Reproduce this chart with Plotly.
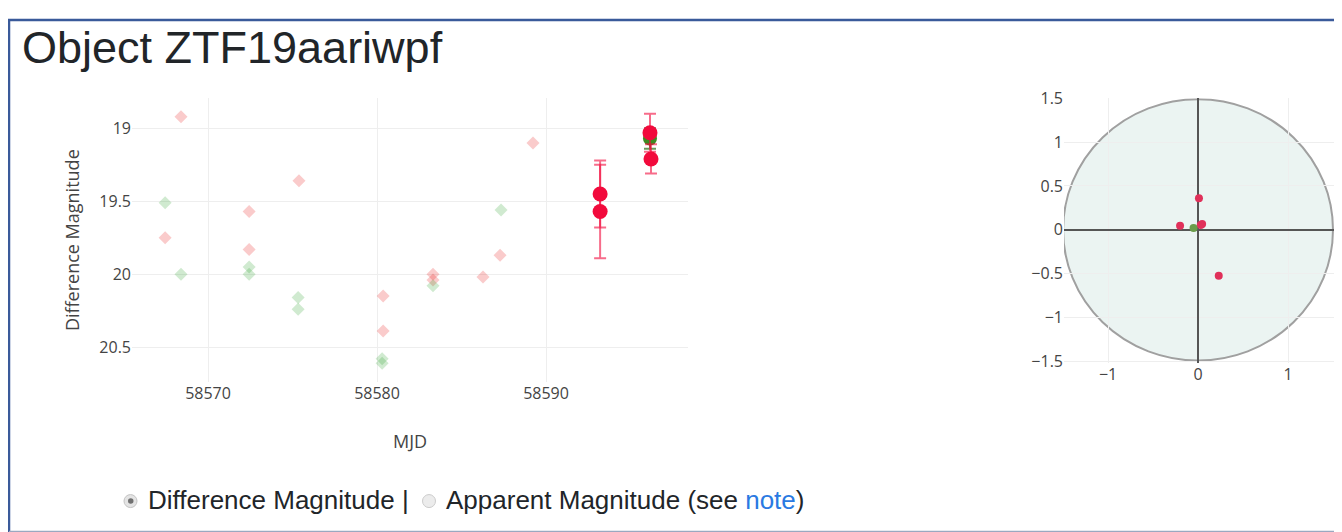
import plotly.graph_objects as go

# figure sits inside the page's 8px body margin; vertical positions below are
# given in target pixels and converted with a small calibration (shift/scale)
OX, OY = 8, 8
W, H = 1334, 534
Y_SHIFT, Y_SCALE = 10.0, 0.963

# ZTF light curve, upper limits (pale diamonds)
r_lim_mjd = [58568.40, 58567.46, 58572.43, 58572.43, 58575.38, 58580.36,
             58580.36, 58583.31, 58583.31, 58586.27, 58587.28, 58589.23]
r_lim_mag = [18.92, 19.75, 19.57, 19.83, 19.36, 20.15,
             20.39, 20.00, 20.04, 20.02, 19.87, 19.10]

g_lim_mjd = [58567.46, 58568.40, 58572.43, 58572.43, 58575.33, 58575.33,
             58580.30, 58580.30, 58583.31, 58587.34]
g_lim_mag = [19.51, 20.00, 19.95, 20.00, 20.16, 20.24,
             20.58, 20.61, 20.08, 19.56]

# detections with errors
g_det_mjd = [58596.15]
g_det_mag = [19.07]
g_det_err = [0.07]

r_det_mjd = [58593.20, 58593.20, 58596.15, 58596.21]
r_det_mag = [19.45, 19.57, 19.03, 19.21]
r_det_err = [0.23, 0.32, 0.13, 0.10]

# cutout offsets (right panel)
r_off_x = [0.01, -0.20, 0.045, 0.03, 0.23]
r_off_y = [0.36, 0.046, 0.065, 0.055, -0.525]
g_off_x = [-0.05]
g_off_y = [0.02]

x_ticks_lc = [58570, 58580, 58590]
y_ticks_lc = [19, 19.5, 20, 20.5]
off_ticks = [-1.5, -1, -0.5, 0, 0.5, 1, 1.5]


def px(x):
    return min(max((x - OX) / W, 0), 1)


def py(y):
    y_page = (y - Y_SHIFT) / Y_SCALE
    return min(max(1 - (y_page - OY) / H, 0), 1)


TICK_FONT = dict(family="Open Sans", size=16, color="#444")
TITLE_FONT = dict(family="Open Sans", size=18, color="#444")

fig = go.Figure()

fig.add_trace(go.Scatter(
    x=r_lim_mjd, y=r_lim_mag, mode="markers", name="r limit",
    marker=dict(symbol="diamond", size=10, color="rgba(230,20,20,0.22)"),
    xaxis="x", yaxis="y"))
fig.add_trace(go.Scatter(
    x=g_lim_mjd, y=g_lim_mag, mode="markers", name="g limit",
    marker=dict(symbol="diamond", size=10, color="rgba(40,160,40,0.22)"),
    xaxis="x", yaxis="y"))
fig.add_trace(go.Scatter(
    x=g_det_mjd, y=g_det_mag, mode="markers", name="g",
    marker=dict(size=14, color="#3d8a22"),
    error_y=dict(type="data", array=g_det_err, color="rgba(40,110,20,0.7)",
                 thickness=2, width=6),
    xaxis="x", yaxis="y"))
fig.add_trace(go.Scatter(
    x=r_det_mjd, y=r_det_mag, mode="markers", name="r",
    marker=dict(size=15, color="#f20a3c"),
    error_y=dict(type="data", array=r_det_err, color="rgba(242,10,60,0.6)",
                 thickness=2, width=6),
    xaxis="x", yaxis="y"))

fig.add_trace(go.Scatter(
    x=r_off_x, y=r_off_y, mode="markers", name="r offset",
    marker=dict(size=8, color="#e0305a"), xaxis="x2", yaxis="y2"))
fig.add_trace(go.Scatter(
    x=g_off_x, y=g_off_y, mode="markers", name="g offset",
    marker=dict(size=8, color="#6a9c4a"), xaxis="x2", yaxis="y2"))

shapes = [
    # circle behind the offset scatter
    dict(type="circle", xref="x2", yref="y2", x0=-1.5, x1=1.5, y0=-1.49, y1=1.49,
         fillcolor="rgba(0,110,90,0.08)", line=dict(color="#a0a0a0", width=2),
         layer="below"),
    # page frame
    dict(type="line", xref="paper", yref="paper", x0=px(9), x1=px(9), y0=1, y1=py(531),
         line=dict(color="#3a5a9a", width=2.5)),
    dict(type="line", xref="paper", yref="paper", x0=px(8), x1=1, y0=0.998, y1=0.998,
         line=dict(color="#3a5a9a", width=2.5)),
    dict(type="line", xref="paper", yref="paper", x0=px(9), x1=1, y0=py(530.5), y1=py(530.5),
         line=dict(color="#9aa8c0", width=1.5)),
    # radio buttons
    dict(type="circle", xref="paper", yref="paper",
         x0=px(124), x1=px(137), y0=py(506.5), y1=py(493.5),
         fillcolor="#e4e4e4", line=dict(color="#c4c4c4", width=1)),
    dict(type="circle", xref="paper", yref="paper",
         x0=px(128), x1=px(133.5), y0=py(502.8), y1=py(497.3),
         fillcolor="#707070", line=dict(width=0)),
    dict(type="circle", xref="paper", yref="paper",
         x0=px(422.5), x1=px(435.5), y0=py(506.5), y1=py(493.5),
         fillcolor="#ececec", line=dict(color="#cccccc", width=1)),
]

annotations = [
    dict(text="Object ZTF19aariwpf", x=px(20), y=py(46), xref="paper", yref="paper",
         xanchor="left", yanchor="middle", showarrow=False,
         font=dict(family="Liberation Sans", size=45, color="#212529")),
    dict(text="MJD", x=px(410), y=py(440), xref="paper", yref="paper",
         xanchor="center", yanchor="middle", showarrow=False, font=TITLE_FONT),
    dict(text="Difference Magnitude |", x=px(146), y=py(499), xref="paper", yref="paper",
         xanchor="left", yanchor="middle", showarrow=False,
         font=dict(family="Liberation Sans", size=26, color="#212529")),
    dict(text="Apparent Magnitude (see <span style='color:#2a7ae2'>note</span>)",
         x=px(444), y=py(499), xref="paper", yref="paper",
         xanchor="left", yanchor="middle", showarrow=False,
         font=dict(family="Liberation Sans", size=26, color="#212529")),
]

fig.update_layout(
    width=W, height=H,
    margin=dict(l=0, r=0, t=0, b=0),
    paper_bgcolor="white", plot_bgcolor="white",
    showlegend=False,
    font=dict(family="Open Sans", color="#444"),
    xaxis=dict(
        domain=[px(132), px(688)], range=[58565.5, 58598.4],
        tickvals=x_ticks_lc, tickformat="d", tickfont=TICK_FONT,
        showgrid=True, gridcolor="#eeeeee", gridwidth=1.3, zeroline=False,
        showline=False, ticks="", anchor="y"),
    yaxis=dict(
        domain=[py(381), py(97)], range=[20.74, 18.794],
        tickvals=y_ticks_lc, ticktext=["19", "19.5", "20", "20.5"], tickfont=TICK_FONT,
        showgrid=True, gridcolor="#eeeeee", gridwidth=1.3, zeroline=False,
        showline=False, ticks="",
        title=dict(text="Difference Magnitude", font=TITLE_FONT),
        anchor="x"),
    xaxis2=dict(
        domain=[px(1064), 1.0], range=[-1.49, 1.6],
        tickvals=[-1, 0, 1], tickfont=TICK_FONT,
        showgrid=True, gridcolor="#eeeeee", gridwidth=1.3,
        zeroline=True, zerolinecolor="#555", zerolinewidth=1.5,
        showline=False, ticks="", anchor="y2"),
    yaxis2=dict(
        domain=[py(362), py(97)], range=[-1.52, 1.5],
        tickvals=off_ticks, tickfont=TICK_FONT,
        showgrid=True, gridcolor="#eeeeee", gridwidth=1.3,
        zeroline=True, zerolinecolor="#555", zerolinewidth=1.5,
        showline=False, ticks="", anchor="x2"),
    shapes=shapes,
    annotations=annotations,
)

fig.write_html("out.html")
